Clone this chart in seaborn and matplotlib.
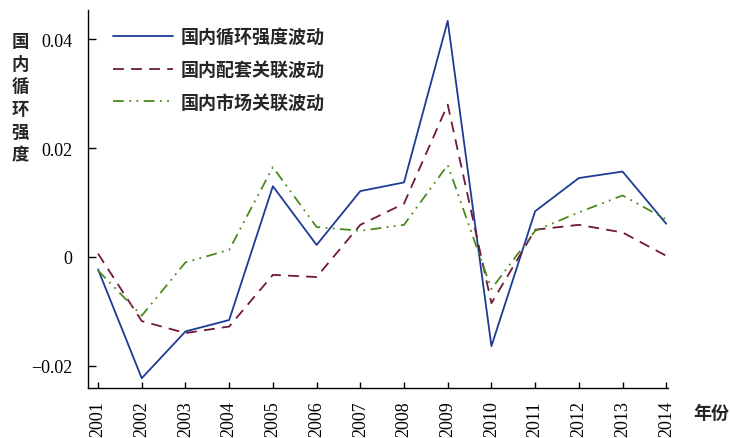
import numpy as np
import pandas as pd
import matplotlib
matplotlib.use("Agg")
import matplotlib.pyplot as plt
import seaborn as sns

years = list(range(2001, 2015))
cycle_strength = [-0.0023, -0.0223, -0.0137, -0.0116, 0.0130, 0.0022, 0.0121,
                  0.0137, 0.0434, -0.0164, 0.0084, 0.0145, 0.0157, 0.0061]
supply_linkage = [0.0006, -0.0118, -0.0140, -0.0128, -0.0033, -0.0037, 0.0059,
                  0.0098, 0.0280, -0.0085, 0.0050, 0.0059, 0.0045, 0.0002]
market_linkage = [-0.0025, -0.0108, -0.0010, 0.0013, 0.0165, 0.0055, 0.0048,
                  0.0059, 0.0169, -0.0059, 0.0048, 0.0082, 0.0113, 0.0069]
series_names = ["国内循环强度波动", "国内配套关联波动", "国内市场关联波动"]
y_ticks = [-0.02, 0, 0.02, 0.04]
y_tick_labels = ["\u22120.02", "0", "0.02", "0.04"]

df = pd.DataFrame({
    "年份": years * 3,
    "值": cycle_strength + supply_linkage + market_linkage,
    "序列": sum([[n] * len(years) for n in series_names], []),
})

sns.set_style("white", {"xtick.bottom": True, "ytick.left": True})
plt.rcParams["font.family"] = ["Liberation Serif", "Noto Sans CJK SC"]
plt.rcParams["axes.linewidth"] = 1.0

fig = plt.figure(figsize=(7.3, 4.39), dpi=100)
ax = fig.add_axes([88 / 730, 1 - 389 / 439, 580 / 730, 378 / 439])

colors = {series_names[0]: "#1c3c94", series_names[1]: "#701838", series_names[2]: "#4a8a1c"}
dashes = {series_names[0]: "", series_names[1]: (6, 4), series_names[2]: (6, 3, 1, 3, 1, 3)}

sns.lineplot(data=df, x="年份", y="值", hue="序列", style="序列",
             palette=colors, dashes=dashes, linewidth=1.3, ax=ax, legend=True)

ax.set_xlim(2001 - 0.23, 2014 + 0.04)
ax.set_ylim(-0.0241, 0.0454)
ax.set_xticks(years)
ax.set_xticklabels([str(y) for y in years], rotation=90, fontsize=13)
ax.set_yticks(y_ticks)
ax.set_yticklabels(y_tick_labels, fontsize=13)
ax.tick_params(axis="y", which="major", left=True, direction="in", length=6,
               width=1.0, pad=11.5, colors="black")
ax.tick_params(axis="x", which="major", bottom=True, direction="in", length=4.5,
               width=1.0, pad=9, colors="black")
ax.set_xlabel("")
ax.set_ylabel("")
for s in ["top", "right"]:
    ax.spines[s].set_visible(False)
for s in ["left", "bottom"]:
    ax.spines[s].set_color("black")

handles, labels = ax.get_legend_handles_labels()
leg = ax.legend(handles, labels, loc="upper left", bbox_to_anchor=(0.043, 0.955),
                frameon=False, handlelength=3.3, handletextpad=0.45,
                labelspacing=0.77, borderaxespad=0, borderpad=0,
                prop={"family": "Noto Sans CJK SC", "weight": "bold", "size": 13})

fig.text(20 / 730, 1 - 33 / 439, "\n".join("国内循环强度"), ha="center", va="top",
         fontsize=12.5, fontweight="bold", family="Noto Sans CJK SC", linespacing=1.34)
fig.text(711 / 730, 1 - 413 / 439, "年份", ha="center", va="center",
         fontsize=13, fontweight="bold", family="Noto Sans CJK SC")

fig.savefig("out.png", dpi=100, facecolor="white")
